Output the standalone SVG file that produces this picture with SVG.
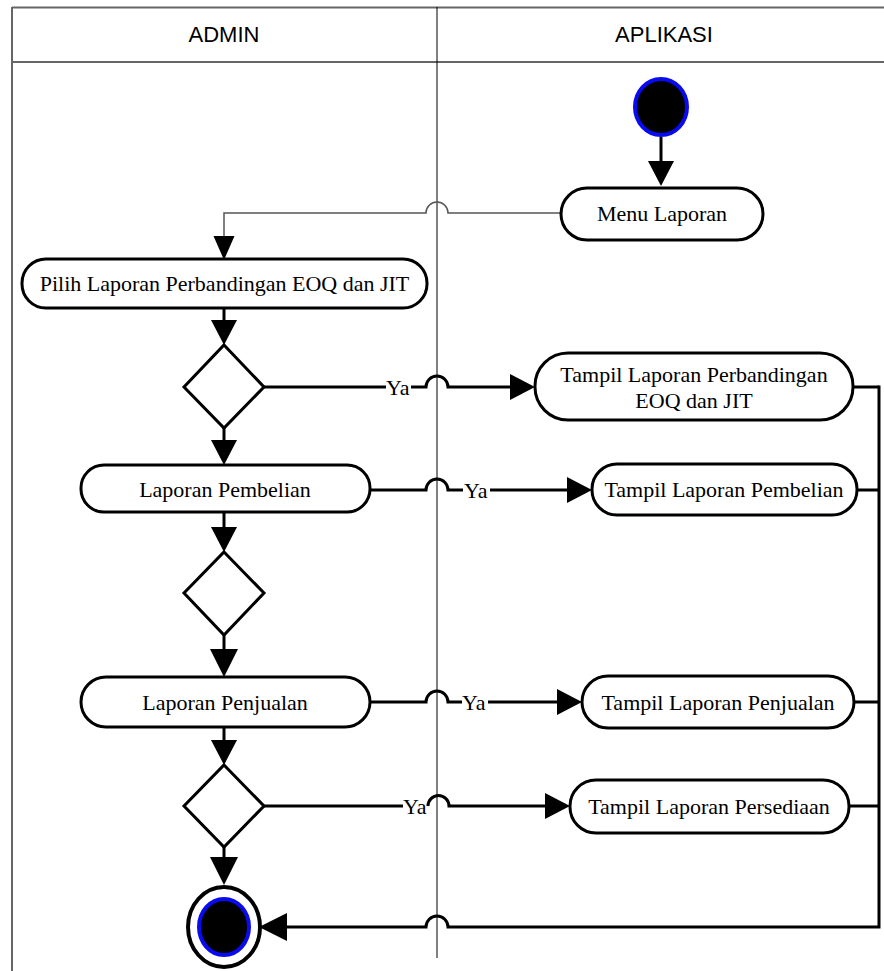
<svg xmlns="http://www.w3.org/2000/svg" width="884" height="971" viewBox="0 0 884 971">
  <style>
    .lane { stroke: #666; stroke-width: 2; fill: none; }
    .div { stroke: #000; stroke-width: 1; fill: none; }
    .hdr { font-family: "Liberation Sans", Arial, sans-serif; font-size: 22px; text-anchor: middle; fill: #000; }
    .act rect { fill: #fff; stroke: #000; stroke-width: 3; }
    .act text, .lbl { font-family: "Liberation Serif", "Times New Roman", serif; font-size: 22px; fill: #000; }
    .act text { text-anchor: middle; }
    .dec polygon { fill: #fff; stroke: #000; stroke-width: 3; }
    .flow { stroke: #000; stroke-width: 3; fill: none; }
    .thin { stroke: #555; stroke-width: 1.5; fill: none; }
  </style>
  <defs>
    <marker id="arr" markerUnits="userSpaceOnUse" markerWidth="26" markerHeight="28" refX="0" refY="13" orient="auto" overflow="visible">
      <path d="M0,0 L25,13 L0,26 Z" fill="#000"/>
    </marker>
    <marker id="arrS" markerUnits="userSpaceOnUse" markerWidth="22" markerHeight="22" refX="0" refY="10.5" orient="auto" overflow="visible">
      <path d="M0,0 L24,10.5 L0,21 Z" fill="#000"/>
    </marker>
    <marker id="arrB" markerUnits="userSpaceOnUse" markerWidth="30" markerHeight="30" refX="0" refY="14" orient="auto" overflow="visible">
      <path d="M0,0 L28,14 L0,28 Z" fill="#000"/>
    </marker>
  </defs>

  <!-- swimlanes -->
  <g id="lanes">
    <line class="lane" x1="12" y1="7.5" x2="884" y2="7.5"/>
    <line class="lane" x1="12" y1="62" x2="884" y2="62"/>
    <line class="lane" x1="12" y1="7" x2="12" y2="971"/>
    <line class="div" x1="437" y1="7" x2="437" y2="958"/>
    <text class="hdr" x="224" y="42">ADMIN</text>
    <text class="hdr" x="664" y="42">APLIKASI</text>
  </g>

  <!-- connectors -->
  <g id="connectors">
    <path class="flow" d="M661 137 V161" marker-end="url(#arr)"/>
    <path class="thin" d="M561 213 H448 A11 11 0 0 0 426 213 H224 V236" marker-end="url(#arrS)"/>
    <path class="flow" d="M224 308 V320" marker-end="url(#arr)"/>
    <path class="flow" d="M264 387 H386"/>
    <path class="flow" d="M411 387 H426 A11 11 0 0 1 448 387 H510" marker-end="url(#arr)"/>
    <path class="flow" d="M224 428 V440" marker-end="url(#arr)"/>
    <path class="flow" d="M370 490 H426 A11 11 0 0 1 448 490 H463"/>
    <path class="flow" d="M490 490 H567" marker-end="url(#arr)"/>
    <path class="flow" d="M224 512 V527" marker-end="url(#arr)"/>
    <path class="flow" d="M224 635 V649" marker-end="url(#arrB)"/>
    <path class="flow" d="M370 702 H426 A11 11 0 0 1 448 702 H462"/>
    <path class="flow" d="M488 702 H557" marker-end="url(#arr)"/>
    <path class="flow" d="M224 727 V740" marker-end="url(#arr)"/>
    <path class="flow" d="M264 806 H403"/>
    <path class="flow" d="M428 806 A10.5 10.5 0 0 1 449 806 H545" marker-end="url(#arr)"/>
    <path class="flow" d="M224 847 V857" marker-end="url(#arrB)"/>
    <path class="flow" d="M853 387 H879 M857 490 H879 M854 702 H879 M849 806 H879"/>
    <path class="flow" d="M879 385.5 V927 H448 A11 11 0 0 0 426 927 H287" marker-end="url(#arrB)"/>
    <text class="lbl" x="386" y="395">Ya</text>
    <text class="lbl" x="464" y="498">Ya</text>
    <text class="lbl" x="462" y="710">Ya</text>
    <text class="lbl" x="403" y="814">Ya</text>
  </g>

  <!-- start node -->
  <g id="start">
    <ellipse cx="661" cy="107" rx="26" ry="28" fill="#000" stroke="#0a0af0" stroke-width="4"/>
  </g>

  <g id="menu-laporan" class="act">
    <rect x="561" y="188" width="202" height="52" rx="26"/>
    <text x="662" y="221">Menu Laporan</text>
  </g>

  <g id="pilih-laporan" class="act">
    <rect x="22" y="259" width="405" height="49" rx="24"/>
    <text x="224.5" y="291">Pilih Laporan Perbandingan EOQ dan JIT</text>
  </g>

  <g id="decision-1" class="dec">
    <polygon points="224,345 264,387 224,428 184,387"/>
  </g>

  <g id="tampil-perbandingan" class="act">
    <rect x="535" y="353" width="318" height="67" rx="33"/>
    <text x="694" y="382">Tampil Laporan Perbandingan</text>
    <text x="694" y="408">EOQ dan JIT</text>
  </g>

  <g id="laporan-pembelian" class="act">
    <rect x="81" y="465" width="289" height="47" rx="23"/>
    <text x="225" y="497">Laporan Pembelian</text>
  </g>

  <g id="tampil-pembelian" class="act">
    <rect x="592" y="464" width="265" height="51" rx="25"/>
    <text x="724" y="497">Tampil Laporan Pembelian</text>
  </g>

  <g id="decision-2" class="dec">
    <polygon points="224,552 264,593 224,635 184,593"/>
  </g>

  <g id="laporan-penjualan" class="act">
    <rect x="81" y="677" width="289" height="50" rx="25"/>
    <text x="225" y="710">Laporan Penjualan</text>
  </g>

  <g id="tampil-penjualan" class="act">
    <rect x="582" y="676" width="272" height="52" rx="26"/>
    <text x="718" y="710">Tampil Laporan Penjualan</text>
  </g>

  <g id="decision-3" class="dec">
    <polygon points="224,765 264,806 224,847 184,806"/>
  </g>

  <g id="tampil-persediaan" class="act">
    <rect x="570" y="780" width="279" height="53" rx="26"/>
    <text x="709" y="814">Tampil Laporan Persediaan</text>
  </g>

  <!-- final node -->
  <g id="end">
    <ellipse cx="224" cy="927" rx="36" ry="40" fill="#fff" stroke="#000" stroke-width="4"/>
    <ellipse cx="224" cy="927" rx="25" ry="28" fill="#000" stroke="#0a0af0" stroke-width="4"/>
  </g>
</svg>
